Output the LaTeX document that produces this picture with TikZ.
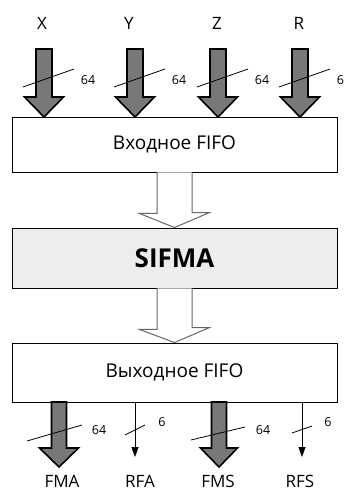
\documentclass[tikz,border=0pt]{standalone}
\usepackage{fontspec}
\setmainfont{Open Sans}
\usetikzlibrary{arrows.meta}
\newcommand\thickarr[6]{% x, top, tip, shaft half, head half, head length
  \filldraw[thickarr] (#1-#4,#2) -- (#1-#4,#3-#6) -- (#1-#5,#3-#6) -- (#1,#3)
    -- (#1+#5,#3-#6) -- (#1+#4,#3-#6) -- (#1+#4,#2) -- cycle;}
\begin{document}
\begin{tikzpicture}[x=1pt,y=-1pt,
  box/.style={draw=black, line width=0.9pt, minimum width=325pt, inner sep=0pt},
  thickarr/.style={fill=black!53, draw=black, line width=1.6pt, line join=miter},
  hollow/.style={fill=white, draw=black!60, line width=1pt},
  slash/.style={draw=black, line width=0.8pt},
  thin/.style={draw=black, line width=0.8pt, -{Triangle[width=7pt,length=10pt]}},
  lab/.style={font=\fontsize{17}{17}\selectfont, inner sep=0pt},
  num/.style={font=\fontsize{12.5}{12.5}\selectfont, inner sep=0pt}]
\useasboundingbox (0,0) rectangle (344,491);
\clip (0,0) rectangle (344,491);
% boxes
\node[box, minimum height=55pt] (in) at (174.5,144.5) {\fontsize{19}{19}\selectfont Входное FIFO};
\node[box, minimum height=60pt, fill=black!7] (core) at (174.5,258) {\fontsize{26}{26}\selectfont\bfseries SIFMA};
\node[box, minimum height=59pt] (out) at (174.5,372.5) {\fontsize{19}{19}\selectfont Выходное FIFO};
% hollow arrows
\filldraw[hollow] ([xshift=-17.5pt]in.south) -- ++(0,41) -- ++(-17.5,0) -- (core.north)
  -- ++(35,-15) -- ++(-17.5,0) -- ([xshift=17.5pt]in.south);
\filldraw[hollow] ([xshift=-17.5pt]core.south) -- ++(0,41) -- ++(-17.5,0) -- (out.north)
  -- ++(35,-15) -- ++(-17.5,0) -- ([xshift=17.5pt]core.south);
% input labels
\node[lab] (lx) at (42,23) {X};
\node[lab] (ly) at (129,23) {Y};
\node[lab] (lz) at (217,23) {Z};
\node[lab] (lr) at (299,23) {R};
% input thick arrows
\foreach \c in {44,135,218,300}{
  \thickarr{\c}{49}{117}{8}{19.5}{20}
  \draw[slash] (\c-21,87) -- (\c+30,69);
  \node[num] at (\c+44,80) {64};
}
% output
\thickarr{59}{402}{467}{7.5}{19.5}{19}
\thickarr{219}{402}{467}{7.5}{18.5}{19}
\draw[slash] (59-32,441) -- (59+23,425);
\node[num] at (59+40,430) {64};
\draw[slash] (219-28,440) -- (219+26,427);
\node[num] at (219+44,430) {64};
\coordinate (rfa) at (135,457);
\coordinate (rfs) at (302,457);
\draw[thin] (out.south -| rfa) -- (rfa);
\draw[thin] (out.south -| rfs) -- (rfs);
\draw[slash] (125,435) -- (145,425);
\node[num] at (162,422) {6};
\draw[slash] (292,433) -- (312,426);
\node[num] at (328,422) {6};
\node[lab] (fma) at (62,481) {FMA};
\node[lab] (rfal) at (140,481) {RFA};
\node[lab] (fms) at (218,481) {FMS};
\node[lab] (rfsl) at (300,481) {RFS};
\end{tikzpicture}
\end{document}
